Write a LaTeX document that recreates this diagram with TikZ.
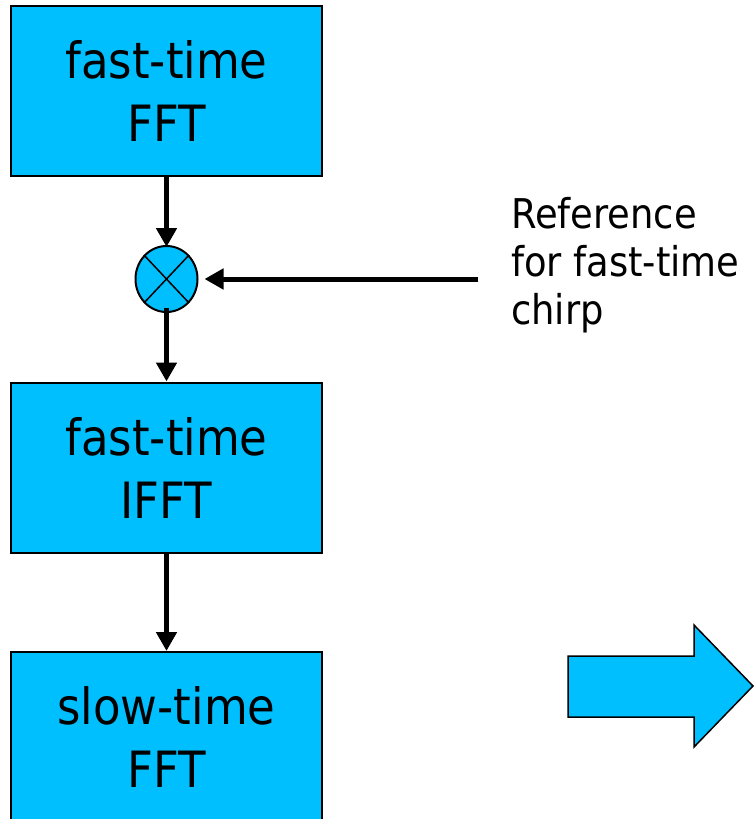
\documentclass[tikz,border=0pt]{standalone}
\usepackage{fontspec}
\setmainfont{DejaVu Sans Condensed}
\usetikzlibrary{arrows.meta,shapes.geometric}
\definecolor{skyfill}{HTML}{00BFFF}
\tikzset{
  procbox/.style={draw=black,line width=2pt,fill=skyfill,minimum width=311pt,minimum height=170pt,inner sep=0pt,align=center,font=\fontsize{50}{63}\selectfont},
  flowarrow/.style={line width=5pt,-{Triangle[width=20pt,length=19pt]}},
}
\begin{document}
\begin{tikzpicture}[x=1pt,y=-1pt]
\useasboundingbox (0,0) rectangle (753,819);
\node[procbox] (fft1) at (166.5,91) {fast-time\\FFT};
\node[procbox] (ifft) at (166.5,467.5) {fast-time\\IFFT};
\node[procbox] (fft2) at (166.5,737) {slow-time\\FFT};
\node[ellipse,draw=black,line width=2pt,fill=skyfill,minimum width=62pt,minimum height=66pt,inner sep=0pt] (mix) at (166.5,279) {};
\draw[line width=1.5pt] (mix.north east) -- (mix.south west);
\draw[line width=1.5pt] (mix.north west) -- (mix.south east);
\node[anchor=north west,inner sep=0pt,align=left,font=\fontsize{41}{48}\selectfont] (ref) at (511,197) {Reference\\for fast-time\\chirp};
\coordinate (refstart) at (478,279);
\draw[flowarrow] (fft1.south) -- ([yshift=-2pt]mix.north);
\draw[flowarrow] ([yshift=5pt]mix.south) -- (ifft.north);
\draw[flowarrow] (refstart) -- ([xshift=6pt]mix.east);
\draw[flowarrow] (ifft.south) -- (fft2.north);
\draw[line width=1.5pt,fill=skyfill] (568,656) -- (694,656) -- (694,625) -- (753,686) -- (694,747) -- (694,717) -- (568,717) -- cycle;
\end{tikzpicture}
\end{document}
